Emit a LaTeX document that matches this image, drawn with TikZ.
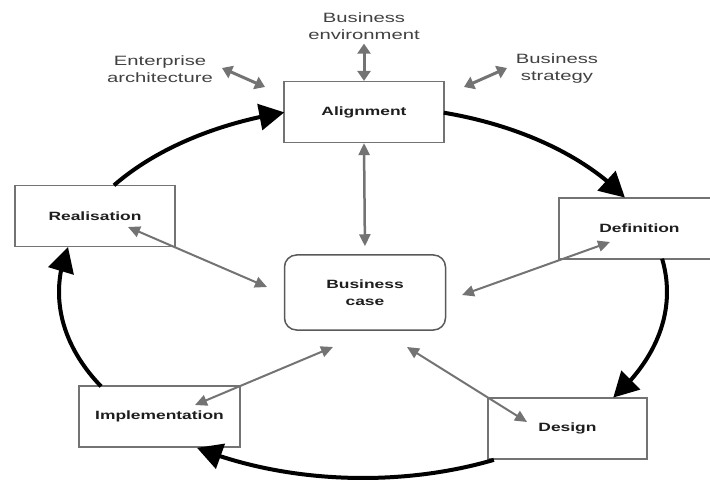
\documentclass[tikz,border=0pt]{standalone}
\usepackage{fontspec}
\setmainfont{Liberation Sans}
\newfontfamily\boxfont[FakeStretch=1.45]{Liberation Sans}
\newfontfamily\outfont[FakeStretch=1.5]{Liberation Sans}
\usetikzlibrary{arrows.meta,bending,calc}
\definecolor{gline}{RGB}{115,115,115}
\definecolor{gbox}{RGB}{115,115,115}
\definecolor{labtxt}{RGB}{30,30,30}
\definecolor{outtxt}{RGB}{65,65,65}
\tikzset{
  phase/.style={draw=gbox, line width=1.2pt, fill=white, minimum width=160pt, minimum height=61pt,
    inner sep=0pt, text=labtxt, font=\boxfont\bfseries\fontsize{12}{15}\selectfont},
  casebox/.style={draw=black!65, line width=1.5pt, rounded corners=12pt, minimum width=161pt, minimum height=75pt,
    inner sep=0pt, align=center, text=labtxt, font=\boxfont\bfseries\fontsize{12}{17}\selectfont},
  outlab/.style={align=center, text=outtxt, inner sep=0pt, font=\outfont\fontsize{13.5}{17}\selectfont},
  garrow/.style={draw=gline, line width=2pt, {Triangle[length=12pt,width=11pt]}-{Triangle[length=12pt,width=11pt]}},
  tarrow/.style={draw=gline, line width=3pt, {Triangle[length=10pt,width=13pt]}-{Triangle[length=10pt,width=13pt]}},
  barrow/.style={draw=black, line width=4pt, -{Triangle[length=25pt,width=26pt]}}
}
\begin{document}
\begin{tikzpicture}[x=1pt,y=1pt]
\useasboundingbox (0,0) rectangle (710,480);
% nodes
\node[phase] (al) at (364,368) {Alignment};
\node[phase] (re) at (95,264) {Realisation};
\node[phase, minimum width=161pt] (de) at (639.5,251.5) {Definition};
\node[phase, minimum width=159pt] (ds) at (567.5,51.5) {Design};
\node[phase, minimum width=161pt] (im) at (159.5,63.5) {Implementation};
\node[casebox] (bc) at (365,187.5) {Business\\case};
\node[outlab] (env) at (364,454) {Business\\environment};
\node[outlab] (ea) at (160,411) {Enterprise\\architecture};
\node[outlab] (bs) at (557,411) {Business\\strategy};
% cycle arcs
\coordinate (C) at (363,188);
\path (C) ++(145:304pt and 186pt) coordinate (a1);
\path (C) ++(74.6:304pt and 186pt) coordinate (a2);
\path (C) ++(10.3:304pt and 186pt) coordinate (a3);
\path (C) ++(-64.5:304pt and 186pt) coordinate (a4);
\path (C) ++(210.5:304pt and 186pt) coordinate (a5);
\draw[barrow] (a1) arc[start angle=145, end angle=105, x radius=304pt, y radius=186pt];
\draw[barrow] (a2) arc[start angle=74.6, end angle=30.5, x radius=304pt, y radius=186pt];
\draw[barrow] (a3) arc[start angle=10.3, end angle=-34.6, x radius=304pt, y radius=186pt];
\draw[barrow] (a4) arc[start angle=-64.5, end angle=-123.1, x radius=304pt, y radius=186pt];
\draw[barrow] (a5) arc[start angle=210.5, end angle=166, x radius=304pt, y radius=186pt];
% top arrows
\draw[tarrow, shorten <=4pt] (env.south) -- (al.north);
\coordinate (ea1) at (222,412); \coordinate (ea2) at (265,393);
\draw[tarrow] (ea1) -- (ea2);
\coordinate (bs1) at (464,393); \coordinate (bs2) at (507,412);
\draw[tarrow] (bs1) -- (bs2);
% gray arrows to business case
\draw[garrow, line width=2.5pt, shorten >=8pt] (al.south) -- (bc.north);
\coordinate (re1) at (128,253); \coordinate (re2) at (267,193);
\draw[garrow] (re1) -- (re2);
\coordinate (im1) at (195,75); \coordinate (im2) at (333,133);
\draw[garrow] (im1) -- (im2);
\coordinate (de1) at (462,185); \coordinate (de2) at (610,238);
\draw[garrow] (de1) -- (de2);
\coordinate (ds1) at (407,133); \coordinate (ds2) at (527,58);
\draw[garrow] (ds1) -- (ds2);
\end{tikzpicture}
\end{document}
